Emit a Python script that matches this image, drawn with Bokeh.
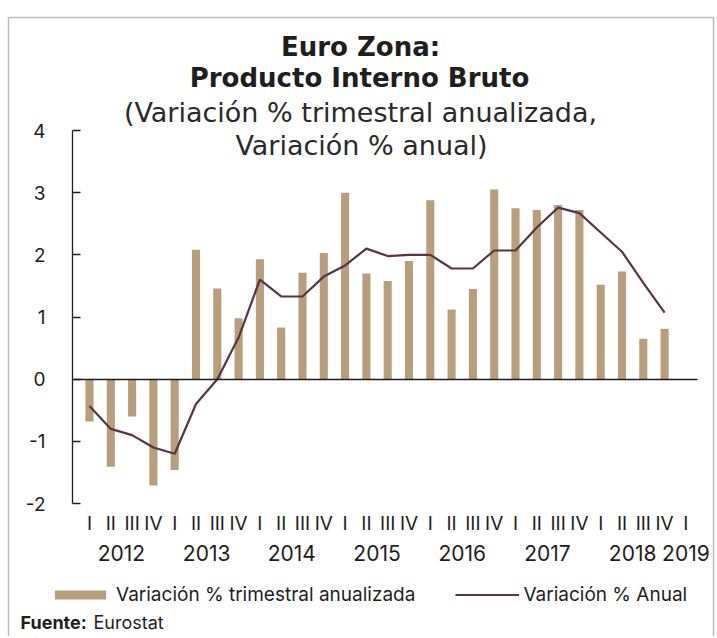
from bokeh.plotting import figure
from bokeh.models import (Range1d, LinearAxis, FixedTicker, Label, Legend,
                          LegendItem, BoxAnnotation, ColumnDataSource)
from bokeh.embed import file_html
from bokeh.resources import INLINE

# ---------------- data ----------------
quarter_labels = ["I", "II", "III", "IV"] * 7 + ["I"]
year_labels = ["2012", "2013", "2014", "2015", "2016", "2017", "2018", "2019"]
year_ticks = [1.5, 5.5, 9.5, 13.5, 17.5, 21.5, 25.5, 28]
trimestral_anualizada = [-0.68, -1.41, -0.60, -1.71,
                         -1.46, 2.08, 1.46, 0.98,
                         1.93, 0.83, 1.71, 2.03,
                         3.00, 1.70, 1.58, 1.90,
                         2.88, 1.12, 1.45, 3.05,
                         2.75, 2.72, 2.80, 2.72,
                         1.52, 1.73, 0.65, 0.81]
anual = [-0.43, -0.80, -0.90, -1.10,
         -1.20, -0.40, 0.00, 0.67,
         1.60, 1.33, 1.33, 1.65,
         1.83, 2.10, 1.98, 2.00,
         2.00, 1.78, 1.78, 2.07,
         2.07, 2.44, 2.76, 2.67,
         2.36, 2.05, 1.55, 1.07]
y_ticks = [-2, -1, 0, 1, 2, 3, 4]

# ---------------- geometry (pixels of the canvas) ----------------
W, H = 716, 636
PX_FIRST_BAR = 89.0      # x pixel of first category
PX_PER_CAT = 21.3
PY_TOP_VAL = 130.0       # y pixel of value 4
PY_BOT_VAL = 503.0       # y pixel of value -2
PX_PER_UNIT = (PY_BOT_VAL - PY_TOP_VAL) / 6.0

X0 = -PX_FIRST_BAR / PX_PER_CAT
X1 = X0 + W / PX_PER_CAT
Y1 = 4 + PY_TOP_VAL / PX_PER_UNIT
Y0 = Y1 - H / PX_PER_UNIT

def fx(px):
    return X0 + px / PX_PER_CAT

def fy(py):
    return Y1 - py / PX_PER_UNIT

AX_FONT = "Inter"
TI_FONT = "DejaVu Sans"
TXT = "#1e1e1e"
BAR = "#B99E7C"
LINE = "#5A3444"

p = figure(width=W, height=H, output_backend="svg", toolbar_location=None,
           x_range=Range1d(X0, X1), y_range=Range1d(Y0, Y1),
           x_axis_location=None, y_axis_location=None, min_border=0)
p.xgrid.visible = False
p.ygrid.visible = False
p.outline_line_color = None
p.background_fill_color = "white"
p.border_fill_color = "white"

# y axis (fixed inside the canvas)
ya = LinearAxis(ticker=FixedTicker(ticks=y_ticks), fixed_location=fx(72),
                bounds=(-2, 4),
                major_label_overrides={t: str(t) for t in y_ticks})
ya.axis_line_color = TXT
ya.axis_line_width = 1.3
ya.major_tick_line_color = TXT
ya.major_tick_line_width = 1.3
ya.major_tick_in = 8
ya.major_tick_out = 0
ya.minor_tick_line_color = None
ya.major_label_standoff = 27
ya.major_label_text_font = AX_FONT
ya.major_label_text_font_size = "19px"
ya.major_label_text_color = TXT
p.add_layout(ya, "left")

# horizontal axis line at zero
x0a = LinearAxis(ticker=FixedTicker(ticks=[]), fixed_location=0,
                 bounds=(fx(72), fx(697)))
x0a.axis_line_color = TXT
x0a.axis_line_width = 1.6
x0a.major_tick_line_color = None
x0a.minor_tick_line_color = None
x0a.major_label_text_font_size = "0px"
p.add_layout(x0a, "below")

# category axes (quarters, years)
xq = LinearAxis(ticker=FixedTicker(ticks=list(range(len(quarter_labels)))),
                major_label_overrides={i: q for i, q in enumerate(quarter_labels)},
                fixed_location=-2)
xy = LinearAxis(ticker=FixedTicker(ticks=year_ticks),
                major_label_overrides={t: y for t, y in zip(year_ticks, year_labels)},
                fixed_location=-2)
for ax, fs, so in ((xq, "19px", 8), (xy, "21px", 41)):
    ax.axis_line_color = None
    ax.major_tick_line_color = None
    ax.minor_tick_line_color = None
    ax.major_tick_in = 0
    ax.major_tick_out = 0
    ax.major_label_standoff = so
    ax.major_label_text_font = AX_FONT
    ax.major_label_text_font_size = fs
    ax.major_label_text_color = TXT
    p.add_layout(ax, "below")

# data marks
src = ColumnDataSource(dict(x=list(range(len(trimestral_anualizada))),
                            bar=trimestral_anualizada, anual=anual))
bars = p.vbar(x="x", top="bar", bottom=0, width=0.38, source=src,
              fill_color=BAR, line_color=None)
ln = p.line(x="x", y="anual", source=src, line_color=LINE, line_width=2.2)

# texts
def lab(text, px, py, size, font, bold=False, align="center", color=TXT):
    p.add_layout(Label(x=fx(px), y=fy(py), text=text, text_align=align,
                       text_baseline="middle", text_font=font,
                       text_font_size=size, text_color=color,
                       text_font_style="bold" if bold else "normal"))

lab("Euro Zona:", 360, 46, "26px", TI_FONT, bold=True)
lab("Producto Interno Bruto", 359, 77, "26px", TI_FONT, bold=True)
lab("(Variación % trimestral anualizada,", 360, 112, "27px", TI_FONT, color="#2a2a2a")
lab("Variación % anual)", 361, 145, "27px", TI_FONT, color="#2a2a2a")
lab("Fuente:", 20, 622, "18px", AX_FONT, bold=True, align="left")
lab("Eurostat", 93, 622, "18px", AX_FONT, align="left")

# legend
legend = Legend(items=[LegendItem(label="Variación % trimestral anualizada", renderers=[bars]),
                       LegendItem(label="Variación % Anual", renderers=[ln])],
                orientation="horizontal", location=(48, H - 606),
                glyph_width=64, glyph_height=11, label_standoff=4, spacing=40,
                padding=0, margin=0, border_line_color=None,
                background_fill_alpha=0, label_text_font=AX_FONT,
                label_text_font_size="19px", label_text_color=TXT)
p.add_layout(legend, "center")

# frame box (its bottom edge lies below the picture)
p.add_layout(BoxAnnotation(left=fx(8), right=fx(713), top=fy(17), bottom=fy(H + 40),
                           fill_alpha=0, line_color="#222222", line_width=1.5))

open("out.html", "w").write(file_html(p, INLINE))
